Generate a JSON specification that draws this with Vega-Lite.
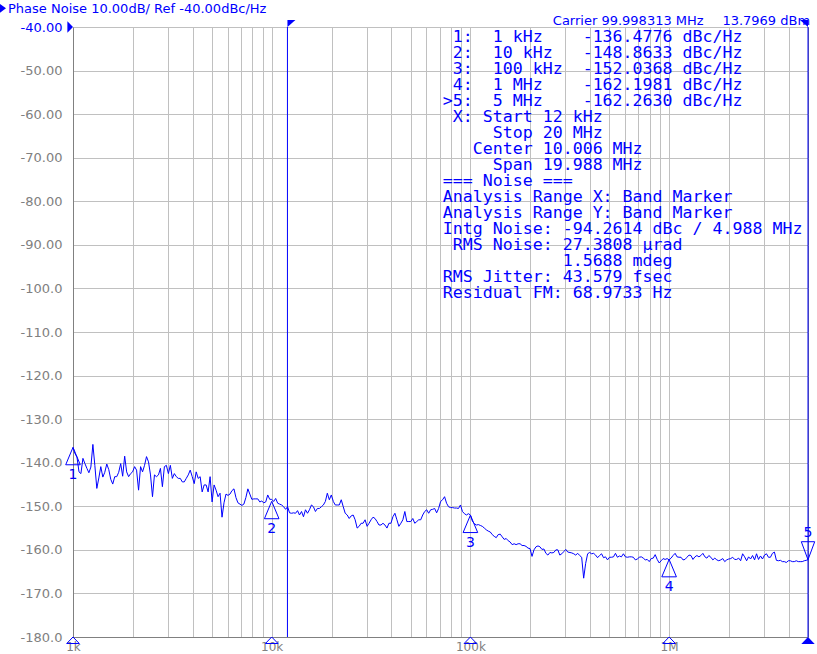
{
"$schema":"https://vega.github.io/schema/vega-lite/v6.json",
"width":735,"height":610,
"autosize":{"type":"none"},
"padding":{"left":73,"top":27,"right":9,"bottom":17},
"background":"white",
"config":{"view":{"stroke":"#808080","strokeWidth":1},"font":"DejaVu Sans"},
"datasets":{
"trace":[
{"f":1000,"v":-136.5},{"f":1023,"v":-137.9},{"f":1047,"v":-138.7},{"f":1072,"v":-142.1},{"f":1096,"v":-142.5},{"f":1122,"v":-139.0},{"f":1148,"v":-140.2},{"f":1175,"v":-141.3},{"f":1202,"v":-142.3},{"f":1230,"v":-141.0},
{"f":1259,"v":-135.8},{"f":1288,"v":-140.6},{"f":1318,"v":-145.9},{"f":1349,"v":-143.5},{"f":1380,"v":-140.9},{"f":1413,"v":-143.3},{"f":1445,"v":-142.2},{"f":1479,"v":-140.3},{"f":1514,"v":-141.6},{"f":1549,"v":-143.8},
{"f":1585,"v":-144.9},{"f":1622,"v":-143.2},{"f":1660,"v":-143.2},{"f":1698,"v":-142.2},{"f":1738,"v":-140.2},{"f":1778,"v":-143.1},{"f":1820,"v":-138.5},{"f":1862,"v":-142.1},{"f":1905,"v":-143.2},{"f":1950,"v":-142.5},
{"f":1995,"v":-142.1},{"f":2042,"v":-140.9},{"f":2089,"v":-141.7},{"f":2138,"v":-146.3},{"f":2188,"v":-140.9},{"f":2239,"v":-142.1},{"f":2291,"v":-140.6},{"f":2344,"v":-138.6},{"f":2399,"v":-139.8},{"f":2455,"v":-142.8},
{"f":2512,"v":-147.8},{"f":2570,"v":-142.8},{"f":2630,"v":-143.2},{"f":2692,"v":-142.8},{"f":2754,"v":-141.3},{"f":2818,"v":-145.5},{"f":2884,"v":-140.9},{"f":2951,"v":-140.6},{"f":3020,"v":-142.5},{"f":3090,"v":-140.6},
{"f":3162,"v":-143.6},{"f":3236,"v":-142.5},{"f":3311,"v":-143.2},{"f":3388,"v":-143.6},{"f":3467,"v":-143.6},{"f":3548,"v":-144.4},{"f":3631,"v":-144.4},{"f":3715,"v":-143.6},{"f":3802,"v":-142.8},{"f":3890,"v":-141.7},
{"f":3981,"v":-143.2},{"f":4074,"v":-144.8},{"f":4169,"v":-142.1},{"f":4266,"v":-143.6},{"f":4365,"v":-143.2},{"f":4467,"v":-146.7},{"f":4571,"v":-145.1},{"f":4677,"v":-145.1},{"f":4786,"v":-146.7},{"f":4898,"v":-143.2},
{"f":5012,"v":-149.0},{"f":5129,"v":-145.1},{"f":5248,"v":-146.3},{"f":5370,"v":-147.8},{"f":5495,"v":-147.0},{"f":5623,"v":-152.5},{"f":5754,"v":-149.2},{"f":5888,"v":-147.2},{"f":6026,"v":-147.5},{"f":6166,"v":-147.2},
{"f":6310,"v":-146.4},{"f":6457,"v":-146.0},{"f":6607,"v":-148.0},{"f":6761,"v":-149.2},{"f":7079,"v":-149.8},{"f":7244,"v":-149.5},{"f":7413,"v":-148.0},{"f":7586,"v":-146.0},{"f":7762,"v":-147.2},{"f":7943,"v":-148.4},
{"f":8128,"v":-148.3},{"f":8318,"v":-148.3},{"f":8511,"v":-148.3},{"f":8710,"v":-149.0},{"f":8913,"v":-148.8},{"f":9120,"v":-149.2},{"f":9333,"v":-149.0},{"f":9550,"v":-147.4},{"f":9772,"v":-148.4},{"f":10000,"v":-148.4},
{"f":10230,"v":-148.9},{"f":10470,"v":-148.2},{"f":10720,"v":-149.3},{"f":10960,"v":-149.5},{"f":11220,"v":-149.7},{"f":11480,"v":-150.1},{"f":11750,"v":-150.7},{"f":12020,"v":-150.1},{"f":12300,"v":-151.5},{"f":12590,"v":-151.6},
{"f":12880,"v":-151.5},{"f":13180,"v":-151.6},{"f":13490,"v":-151.0},{"f":13800,"v":-152.0},{"f":14130,"v":-151.2},{"f":14450,"v":-152.4},{"f":14790,"v":-150.8},{"f":15140,"v":-151.6},{"f":15490,"v":-150.8},{"f":15850,"v":-149.7},
{"f":16220,"v":-150.1},{"f":16600,"v":-151.2},{"f":16980,"v":-150.5},{"f":17380,"v":-150.5},{"f":17780,"v":-150.1},{"f":18200,"v":-149.7},{"f":18620,"v":-148.9},{"f":19050,"v":-147.0},{"f":19500,"v":-148.5},{"f":19950,"v":-147.4},
{"f":20420,"v":-148.9},{"f":20890,"v":-149.7},{"f":21380,"v":-149.7},{"f":21880,"v":-149.7},{"f":22390,"v":-148.5},{"f":22910,"v":-150.1},{"f":23440,"v":-151.6},{"f":23990,"v":-152.0},{"f":24550,"v":-152.8},{"f":25120,"v":-152.2},
{"f":25700,"v":-152.0},{"f":26300,"v":-153.1},{"f":26920,"v":-155.0},{"f":27540,"v":-154.6},{"f":28180,"v":-153.9},{"f":28840,"v":-153.9},{"f":29510,"v":-153.1},{"f":30200,"v":-154.6},{"f":30900,"v":-153.9},{"f":31620,"v":-153.1},
{"f":32360,"v":-152.5},{"f":33110,"v":-152.8},{"f":33880,"v":-153.5},{"f":34670,"v":-154.3},{"f":35480,"v":-154.3},{"f":36310,"v":-153.9},{"f":37150,"v":-154.3},{"f":38020,"v":-155.0},{"f":38900,"v":-153.9},{"f":39810,"v":-153.9},
{"f":40740,"v":-152.4},{"f":41690,"v":-151.6},{"f":42660,"v":-153.1},{"f":43650,"v":-154.6},{"f":44670,"v":-153.9},{"f":45710,"v":-153.1},{"f":46770,"v":-151.2},{"f":47860,"v":-153.5},{"f":48980,"v":-153.5},{"f":50120,"v":-153.5},
{"f":51290,"v":-152.8},{"f":52480,"v":-153.9},{"f":53700,"v":-153.5},{"f":54950,"v":-153.1},{"f":56230,"v":-153.1},{"f":57540,"v":-152.0},{"f":58880,"v":-151.2},{"f":60260,"v":-150.8},{"f":61660,"v":-151.6},{"f":63100,"v":-150.8},
{"f":64570,"v":-150.7},{"f":66070,"v":-150.5},{"f":67610,"v":-151.5},{"f":69180,"v":-150.5},{"f":70790,"v":-148.9},{"f":72440,"v":-148.5},{"f":74130,"v":-147.8},{"f":75860,"v":-149.3},{"f":77620,"v":-150.1},{"f":79430,"v":-150.3},
{"f":81280,"v":-150.3},{"f":83180,"v":-150.4},{"f":85110,"v":-150.4},{"f":87100,"v":-150.5},{"f":89130,"v":-149.7},{"f":91200,"v":-151.2},{"f":93330,"v":-151.7},{"f":95500,"v":-152.0},{"f":97720,"v":-151.7},{"f":100000,"v":-152.0},
{"f":102300,"v":-153.4},{"f":104700,"v":-154.0},{"f":107200,"v":-154.3},{"f":109600,"v":-154.2},{"f":112200,"v":-154.4},{"f":114800,"v":-154.6},{"f":117500,"v":-155.0},{"f":120200,"v":-155.4},{"f":123000,"v":-155.7},{"f":125900,"v":-155.9},
{"f":128800,"v":-156.5},{"f":131800,"v":-156.9},{"f":134900,"v":-157.2},{"f":138000,"v":-156.5},{"f":141300,"v":-156.4},{"f":144500,"v":-157.0},{"f":147900,"v":-157.6},{"f":151400,"v":-157.4},{"f":154900,"v":-157.9},{"f":158500,"v":-158.2},
{"f":162200,"v":-158.8},{"f":166000,"v":-158.6},{"f":169800,"v":-158.8},{"f":173800,"v":-158.6},{"f":177800,"v":-158.6},{"f":182000,"v":-159.0},{"f":186200,"v":-159.0},{"f":190500,"v":-159.2},{"f":195000,"v":-159.6},{"f":199500,"v":-159.7},
{"f":204200,"v":-161.5},{"f":208900,"v":-160.0},{"f":213800,"v":-159.3},{"f":218800,"v":-159.1},{"f":223900,"v":-159.3},{"f":229100,"v":-159.9},{"f":234400,"v":-159.8},{"f":239900,"v":-160.8},{"f":245500,"v":-161.2},{"f":251200,"v":-160.6},
{"f":257000,"v":-160.7},{"f":263000,"v":-160.6},{"f":269200,"v":-160.0},{"f":275400,"v":-160.0},{"f":281800,"v":-161.2},{"f":288400,"v":-160.9},{"f":295100,"v":-160.4},{"f":302000,"v":-159.9},{"f":309000,"v":-160.5},{"f":323600,"v":-160.7},
{"f":331100,"v":-160.9},{"f":338800,"v":-161.2},{"f":346700,"v":-160.8},{"f":354800,"v":-161.3},{"f":363100,"v":-161.7},{"f":371500,"v":-166.5},{"f":380200,"v":-163.1},{"f":389000,"v":-160.9},{"f":398100,"v":-160.6},{"f":407400,"v":-160.9},
{"f":416900,"v":-160.8},{"f":426600,"v":-161.2},{"f":436500,"v":-161.8},{"f":446700,"v":-161.3},{"f":457100,"v":-160.9},{"f":467700,"v":-161.8},{"f":478600,"v":-161.6},{"f":489800,"v":-162.3},{"f":501200,"v":-161.7},{"f":512900,"v":-161.7},
{"f":524800,"v":-161.6},{"f":537000,"v":-160.8},{"f":549500,"v":-161.7},{"f":562300,"v":-161.4},{"f":575400,"v":-161.6},{"f":588800,"v":-160.9},{"f":602600,"v":-161.6},{"f":616600,"v":-161.7},{"f":631000,"v":-161.6},{"f":645700,"v":-161.6},
{"f":660700,"v":-161.7},{"f":676100,"v":-162.3},{"f":691800,"v":-162.1},{"f":707900,"v":-161.7},{"f":724400,"v":-161.6},{"f":741300,"v":-161.9},{"f":758600,"v":-162.3},{"f":776200,"v":-162.2},{"f":794300,"v":-162.7},{"f":812800,"v":-162.0},
{"f":831800,"v":-161.9},{"f":851100,"v":-161.1},{"f":871000,"v":-162.2},{"f":891300,"v":-163.0},{"f":912000,"v":-162.5},{"f":933300,"v":-162.0},{"f":955000,"v":-162.2},{"f":977200,"v":-162.0},{"f":1000000,"v":-162.3},{"f":1023000,"v":-161.9},
{"f":1047000,"v":-161.3},{"f":1072000,"v":-160.8},{"f":1096000,"v":-161.6},{"f":1122000,"v":-161.7},{"f":1148000,"v":-161.7},{"f":1175000,"v":-162.3},{"f":1202000,"v":-162.2},{"f":1230000,"v":-161.7},{"f":1259000,"v":-161.2},{"f":1288000,"v":-161.3},
{"f":1318000,"v":-162.2},{"f":1349000,"v":-161.6},{"f":1380000,"v":-161.3},{"f":1413000,"v":-161.6},{"f":1445000,"v":-161.3},{"f":1479000,"v":-160.8},{"f":1514000,"v":-161.6},{"f":1549000,"v":-161.9},{"f":1585000,"v":-161.3},{"f":1622000,"v":-161.7},
{"f":1660000,"v":-162.3},{"f":1698000,"v":-161.9},{"f":1738000,"v":-162.3},{"f":1778000,"v":-162.5},{"f":1820000,"v":-162.3},{"f":1862000,"v":-162.0},{"f":1905000,"v":-162.7},{"f":1950000,"v":-162.3},{"f":1995000,"v":-162.1},{"f":2042000,"v":-162.0},
{"f":2089000,"v":-161.7},{"f":2138000,"v":-162.2},{"f":2188000,"v":-162.2},{"f":2239000,"v":-161.9},{"f":2291000,"v":-162.5},{"f":2344000,"v":-160.9},{"f":2399000,"v":-161.6},{"f":2455000,"v":-162.5},{"f":2512000,"v":-161.6},{"f":2570000,"v":-162.1},
{"f":2630000,"v":-161.3},{"f":2692000,"v":-162.3},{"f":2754000,"v":-160.9},{"f":2818000,"v":-162.2},{"f":2884000,"v":-161.4},{"f":2951000,"v":-162.1},{"f":3020000,"v":-161.2},{"f":3090000,"v":-160.9},{"f":3162000,"v":-161.7},{"f":3236000,"v":-161.7},
{"f":3311000,"v":-160.8},{"f":3388000,"v":-160.5},{"f":3467000,"v":-162.4},{"f":3548000,"v":-162.5},{"f":3631000,"v":-162.4},{"f":3715000,"v":-162.7},{"f":3802000,"v":-162.7},{"f":3890000,"v":-162.9},{"f":3981000,"v":-162.5},{"f":4074000,"v":-162.5},
{"f":4169000,"v":-162.7},{"f":4266000,"v":-162.7},{"f":4365000,"v":-162.5},{"f":4467000,"v":-162.7},{"f":4571000,"v":-162.7},{"f":4677000,"v":-162.7},{"f":4786000,"v":-162.5},{"f":4898000,"v":-162.4},{"f":5000000,"v":-162.26}
],
"markers":[{"f":1000,"v":-136.4776,"n":"1"},{"f":10000,"v":-148.8633,"n":"2"},{"f":100000,"v":-152.0368,"n":"3"},{"f":1000000,"v":-162.1981,"n":"4"}],
"active":[{"f":5000000,"v":-162.263,"n":"5"}]
},
"layer":[
{"data":{"name":"trace"},
 "mark":{"type":"line","color":"#0000ff","strokeWidth":1},
 "encoding":{
  "x":{"field":"f","type":"quantitative",
   "scale":{"type":"log","domain":[1000,5000000],"nice":false,"zero":false},
   "axis":{"title":null,"values":[1000,2000,3000,4000,5000,6000,7000,8000,9000,10000,20000,30000,40000,50000,60000,70000,80000,90000,100000,200000,300000,400000,500000,600000,700000,800000,900000,1000000,2000000,3000000,4000000],
    "labelExpr":"datum.value == 1000 ? '1k' : datum.value == 10000 ? '10k' : datum.value == 100000 ? '100k' : datum.value == 1000000 ? '1M' : ''",
    "grid":true,"gridColor":"#c0c0c0","gridWidth":1,"ticks":false,"domain":true,"domainColor":"#808080",
    "labelColor":"#808080","labelFont":"DejaVu Sans","labelFontSize":12,"labelPadding":4,"labelFlush":false,"labelOverlap":false,"labelBound":false}},
  "y":{"field":"v","type":"quantitative",
   "scale":{"domain":[-180,-40],"nice":false,"zero":false},
   "axis":{"title":null,"values":[-180,-170,-160,-150,-140,-130,-120,-110,-100,-90,-80,-70,-60,-50,-40],
    "labelExpr":"datum.value > -95 ? '-' + format(-datum.value, '.2f') : '-' + format(-datum.value, '.1f')",
    "grid":true,"gridColor":"#c0c0c0","gridWidth":1,"ticks":false,"domain":true,"domainColor":"#808080",
    "labelColor":{"condition":{"test":"datum.value == -40","value":"#0000ff"},"value":"#808080"},
    "labelFont":"DejaVu Sans","labelFontSize":13,"labelPadding":11,"labelOverlap":false,"labelBound":false,"labelFlush":false}}
 }},
{"data":{"values":[{}]},"mark":{"type":"rule","color":"#0000ff","strokeWidth":1},
 "encoding":{"x":{"datum":12000,"type":"quantitative"}}},
{"data":{"values":[{}]},"mark":{"type":"rule","color":"#0000ff","strokeWidth":1},
 "encoding":{"x":{"datum":5000000,"type":"quantitative"}}},
{"data":{"name":"markers"},"mark":{"type":"point","shape":"M0,0L-7.3,17.4L7.3,17.4Z","size":4,"filled":false,"color":"#0000ff","opacity":1,"strokeWidth":1},
 "encoding":{"x":{"field":"f","type":"quantitative"},"y":{"field":"v","type":"quantitative"}}},
{"data":{"name":"markers"},"mark":{"type":"text","color":"#0000ff","font":"DejaVu Sans","fontSize":14,"baseline":"middle","align":"center","dy":28},
 "encoding":{"x":{"field":"f","type":"quantitative"},"y":{"field":"v","type":"quantitative"},"text":{"field":"n"}}},
{"data":{"name":"active"},"mark":{"type":"point","shape":"M0,0L-6.7,-18L6.7,-18Z","size":4,"filled":false,"color":"#0000ff","opacity":1,"strokeWidth":1},
 "encoding":{"x":{"field":"f","type":"quantitative"},"y":{"field":"v","type":"quantitative"}}},
{"data":{"name":"active"},"mark":{"type":"text","color":"#0000ff","font":"DejaVu Sans","fontSize":14,"baseline":"middle","align":"center","dy":-27},
 "encoding":{"x":{"field":"f","type":"quantitative"},"y":{"field":"v","type":"quantitative"},"text":{"field":"n"}}},
{"data":{"name":"markers"},"mark":{"type":"point","shape":"M0,0L-6.3,6.5L6.3,6.5Z","size":4,"filled":false,"color":"#0000ff","opacity":1,"strokeWidth":1},
 "encoding":{"x":{"field":"f","type":"quantitative"},"y":{"datum":-180,"type":"quantitative"}}},
{"data":{"name":"active"},"mark":{"type":"point","shape":"M0,0L-6.7,7L6.7,7Z","size":4,"filled":true,"color":"#0000ff","opacity":1},
 "encoding":{"x":{"field":"f","type":"quantitative"},"y":{"datum":-180,"type":"quantitative"}}},
{"data":{"values":[{}]},"mark":{"type":"point","shape":"M0,0L0,-7L8,-7Z","size":4,"filled":true,"color":"#0000ff","opacity":1},
 "encoding":{"x":{"datum":12000,"type":"quantitative"},"y":{"datum":-40,"type":"quantitative"}}},
{"data":{"values":[{}]},"mark":{"type":"point","shape":"M0,0L0,-7L-8,-7Z","size":4,"filled":true,"color":"#0000ff","opacity":1},
 "encoding":{"x":{"datum":5000000,"type":"quantitative"},"y":{"datum":-40,"type":"quantitative"}}},
{"data":{"values":[{}]},"mark":{"type":"point","shape":"M0,0L-5.6,-5.8L-5.6,5.8Z","size":4,"filled":true,"color":"#0000ff","opacity":1},
 "encoding":{"x":{"datum":1000,"type":"quantitative"},"y":{"datum":-40,"type":"quantitative"}}},
{"data":{"values":[{}]},"mark":{"type":"point","shape":"M0,0L-6,-4.4L-6,4.4Z","size":4,"filled":true,"color":"#0000ff","opacity":1},
 "encoding":{"x":{"datum":460,"type":"quantitative"},"y":{"datum":-35.71,"type":"quantitative"}}},
{"data":{"values":[{}]},"mark":{"type":"text","color":"#0000ff","font":"DejaVu Sans","fontSize":13,"align":"left","baseline":"alphabetic","text":"Phase Noise 10.00dB/ Ref -40.00dBc/Hz"},
 "encoding":{"x":{"datum":471,"type":"quantitative"},"y":{"datum":-36.9,"type":"quantitative"}}},
{"data":{"values":[{}]},"mark":{"type":"text","color":"#0000ff","font":"DejaVu Sans","fontSize":13,"align":"left","baseline":"alphabetic","text":"Carrier 99.998313 MHz"},
 "encoding":{"x":{"datum":259800,"type":"quantitative"},"y":{"datum":-39.54,"type":"quantitative"}}},
{"data":{"values":[{}]},"mark":{"type":"text","color":"#0000ff","font":"DejaVu Sans","fontSize":13,"align":"left","baseline":"alphabetic","text":"13.7969 dBm"},
 "encoding":{"x":{"datum":1854000,"type":"quantitative"},"y":{"datum":-39.54,"type":"quantitative"}}},
{"data":{"values":[{}]},"mark":{"type":"text","color":"#0000ff","font":"DejaVu Sans Mono","fontSize":16.6,"lineHeight":16,"align":"left","baseline":"alphabetic",
 "text":["\u200b\u00a01:\u00a0\u00a01\u00a0kHz\u00a0\u00a0\u00a0\u00a0-136.4776\u00a0dBc/Hz","\u200b\u00a02:\u00a0\u00a010\u00a0kHz\u00a0\u00a0\u00a0-148.8633\u00a0dBc/Hz","\u200b\u00a03:\u00a0\u00a0100\u00a0kHz\u00a0\u00a0-152.0368\u00a0dBc/Hz","\u200b\u00a04:\u00a0\u00a01\u00a0MHz\u00a0\u00a0\u00a0\u00a0-162.1981\u00a0dBc/Hz",">5:\u00a0\u00a05\u00a0MHz\u00a0\u00a0\u00a0\u00a0-162.2630\u00a0dBc/Hz","\u200b\u00a0X:\u00a0Start\u00a012\u00a0kHz","\u200b\u00a0\u00a0\u00a0\u00a0\u00a0Stop\u00a020\u00a0MHz","\u200b\u00a0\u00a0\u00a0Center\u00a010.006\u00a0MHz","\u200b\u00a0\u00a0\u00a0\u00a0\u00a0Span\u00a019.988\u00a0MHz","===\u00a0Noise\u00a0===","Analysis\u00a0Range\u00a0X:\u00a0Band\u00a0Marker","Analysis\u00a0Range\u00a0Y:\u00a0Band\u00a0Marker","Intg\u00a0Noise:\u00a0-94.2614\u00a0dBc\u00a0/\u00a04.988\u00a0MHz","\u200b\u00a0RMS\u00a0Noise:\u00a027.3808\u00a0µrad","\u200b\u00a0\u00a0\u00a0\u00a0\u00a0\u00a0\u00a0\u00a0\u00a0\u00a0\u00a0\u00a01.5688\u00a0mdeg","RMS\u00a0Jitter:\u00a043.579\u00a0fsec","Residual\u00a0FM:\u00a068.9733\u00a0Hz"]},
 "encoding":{"x":{"datum":72600,"type":"quantitative"},"y":{"datum":-43.44,"type":"quantitative"}}}
]
}
